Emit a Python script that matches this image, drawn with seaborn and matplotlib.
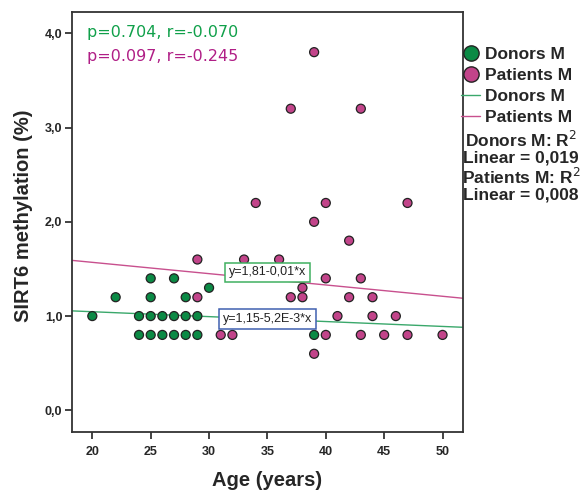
import matplotlib
matplotlib.use("Agg")
import matplotlib.pyplot as plt
import seaborn as sns
import numpy as np
import pandas as pd
from matplotlib.lines import Line2D

sns.set_theme(style="white")
plt.rcParams['font.family'] = ['Liberation Sans', 'DejaVu Sans']

# Data
donor_age = [20, 22, 24, 25, 26, 27, 28, 29, 24, 25, 26, 27, 28, 29, 25, 27, 25, 28, 30, 39]
donor_val = [1.0, 1.2, 1.0, 1.0, 1.0, 1.0, 1.0, 1.0, 0.8, 0.8, 0.8, 0.8, 0.8, 0.8, 1.4, 1.4, 1.2, 1.2, 1.3, 0.8]

patient_age = [39, 37, 43, 34, 40, 47, 39, 42, 29, 33, 36, 40, 43, 38, 29, 37, 38, 42, 44,
               41, 44, 46, 31, 32, 40, 43, 45, 47, 50, 39]
patient_val = [3.8, 3.2, 3.2, 2.2, 2.2, 2.2, 2.0, 1.8, 1.6, 1.6, 1.6, 1.4, 1.4, 1.3, 1.2, 1.2, 1.2, 1.2, 1.2,
               1.0, 1.0, 1.0, 0.8, 0.8, 0.8, 0.8, 0.8, 0.8, 0.8, 0.6]

# Fit lines (from the chart's equations)
donor_fit = (1.15, -5.2e-3)
patient_fit = (1.81, -0.012)

x_ticks = [20, 25, 30, 35, 40, 45, 50]
y_ticks = [0.0, 1.0, 2.0, 3.0, 4.0]

GREEN = "#0b8a45"
PINK = "#c2448a"
GREEN_LINE = "#3aa86b"
PINK_LINE = "#c8508e"

df = pd.DataFrame({
    "age": donor_age + patient_age,
    "val": donor_val + patient_val,
    "group": ["Donors M"] * len(donor_age) + ["Patients M"] * len(patient_age),
})

W, H = 582, 491
fig = plt.figure(figsize=(W/100, H/100), dpi=100)
ax = fig.add_axes([72/W, 1-432/H, (462.5-72)/W, (432-12)/H])

xlim = (18.26, 51.71)
ylim = (-0.23, 4.226)

# regression lines
xs = np.array(xlim)
ax.plot(xs, patient_fit[0] + patient_fit[1]*xs, color=PINK_LINE, lw=1.0, zorder=1)
ax.plot(xs, donor_fit[0] + donor_fit[1]*xs, color=GREEN_LINE, lw=1.0, zorder=1)

sns.scatterplot(data=df, x="age", y="val", hue="group",
                palette={"Donors M": GREEN, "Patients M": PINK},
                s=42, edgecolor="#222222", linewidth=0.9, ax=ax, legend=False, zorder=3)

ax.set_xlim(*xlim)
ax.set_ylim(*ylim)
ax.set_xticks(x_ticks)
ax.set_xticklabels([str(t) for t in x_ticks])
ax.set_yticks(y_ticks)
ax.set_yticklabels([f"{t:.1f}".replace(".", ",") for t in y_ticks])
for lab in ax.get_xticklabels() + ax.get_yticklabels():
    lab.set_fontweight("bold")
    lab.set_fontsize(9)
ax.tick_params(axis="both", direction="out", length=5, width=1.2, color="#222222",
               bottom=True, left=True)
ax.tick_params(axis="x", pad=5)
ax.tick_params(axis="y", pad=2)
for sp in ax.spines.values():
    sp.set_color("#333333")
    sp.set_linewidth(1.3)

ax.set_xlabel("")
ax.set_ylabel("")
fig.text(267/W, 1-480/H, "Age (years)", fontsize=14.5, fontweight="bold", ha="center", va="center")
fig.text(24/W, 1-216/H, "SIRT6 methylation (%)", fontsize=14.5, fontweight="bold",
         ha="center", va="center", rotation=90)

# stats text
fig.text(87/W, 1-33/H, "p=0.704, r=-0.070", color="#10a04a", fontsize=11.5,
         family="DejaVu Sans", va="center", ha="left")
fig.text(87/W, 1-57/H, "p=0.097, r=-0.245", color="#b01e86", fontsize=11.5,
         family="DejaVu Sans", va="center", ha="left")

# equation labels
ax.annotate("y=1,81-0,01*x", xy=(267.5/W, 1-272.5/H), xycoords="figure fraction",
            ha="center", va="center", fontsize=9, color="#222222",
            bbox=dict(boxstyle="square,pad=0.3", fc="white", ec="#40b060", lw=1.1), zorder=5)
ax.annotate("y=1,15-5,2E-3*x", xy=(267.5/W, 1-319/H), xycoords="figure fraction",
            ha="center", va="center", fontsize=9, color="#222222",
            bbox=dict(boxstyle="square,pad=0.3", fc="white", ec="#4060b0", lw=1.1), zorder=5)

# legend
handles = [
    Line2D([], [], marker="o", ls="", markersize=11, markerfacecolor=GREEN, markeredgecolor="#222222", markeredgewidth=1.0, label="Donors M"),
    Line2D([], [], marker="o", ls="", markersize=11, markerfacecolor=PINK, markeredgecolor="#222222", markeredgewidth=1.0, label="Patients M"),
    Line2D([], [], color=GREEN_LINE, lw=1.0, label="Donors M"),
    Line2D([], [], color=PINK_LINE, lw=1.0, label="Patients M"),
]
fig.legend(handles=handles, loc="upper left", bbox_to_anchor=(461/W, 1-47/H),
           frameon=False, handlelength=1.1, handletextpad=0.3,
           labelspacing=0.33, borderpad=0.0, borderaxespad=0.0,
           prop={"weight": "bold", "size": 12.5})

fig.text(521/W, 1-166/H, "Donors M: R$^2$\nLinear = 0,019\nPatients M: R$^2$\nLinear = 0,008",
         ha="center", va="center", fontsize=12.5, fontweight="bold", linespacing=1.05)

fig.savefig("out.png", dpi=100)
